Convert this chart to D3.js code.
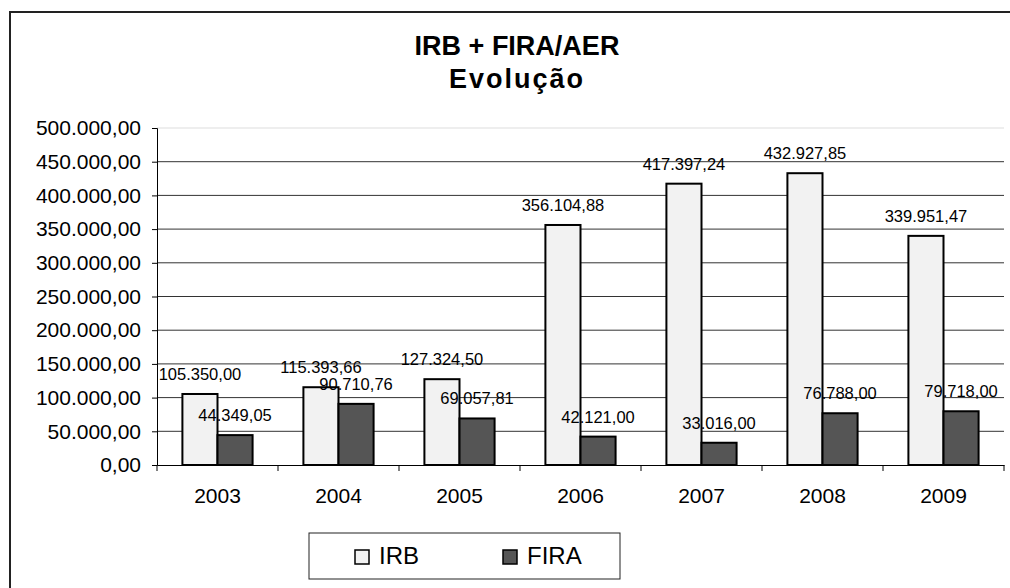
<!DOCTYPE html>
<html>
<head>
<meta charset="utf-8">
<script src="https://cdn.jsdelivr.net/npm/d3@7"></script>
<style>
  body { margin: 0; background: #fff; }
  svg { font-family: "Liberation Sans", Arial, sans-serif; }
</style>
</head>
<body>
<svg width="1010" height="588"></svg>
<script>
// data
var years = ['2003', '2004', '2005', '2006', '2007', '2008', '2009'];
var irb = [105350.00, 115393.66, 127324.50, 356104.88, 417397.24, 432927.85, 339951.47];
var fira = [44349.05, 90710.76, 69057.81, 42121.00, 33016.00, 76788.00, 79718.00];
var seriesNames = ['IRB', 'FIRA'];
var yTicks = [0, 50000, 100000, 150000, 200000, 250000, 300000, 350000, 400000, 450000, 500000];

var colors = ['#f2f2f2', '#555555'];

var br = d3.formatLocale({decimal: ',', thousands: '.', grouping: [3], currency: ['R$', '']});
var fmt = br.format(',.2f');

var svg = d3.select('svg');

// outer chart border (runs off the picture right and bottom)
svg.append('rect')
    .attr('x', 10).attr('y', 12)
    .attr('width', 1030).attr('height', 600)
    .attr('fill', '#fff')
    .attr('stroke', '#222')
    .attr('stroke-width', 2);

// title
svg.append('text')
    .attr('x', 517).attr('y', 55)
    .attr('text-anchor', 'middle')
    .attr('font-size', 27).attr('font-weight', 'bold')
    .text('IRB + FIRA/AER');
svg.append('text')
    .attr('x', 517).attr('y', 88)
    .attr('text-anchor', 'middle')
    .attr('font-size', 27).attr('font-weight', 'bold')
    .attr('letter-spacing', 2)
    .text('Evolução');

var pLeft = 157, pRight = 1004, pTop = 128, pBottom = 465;

var y = d3.scaleLinear().domain([0, 500000]).range([pBottom, pTop]);
var x0 = d3.scaleBand().domain(years).range([pLeft, pRight]).padding(0);
var bw = x0.bandwidth() * 0.29;
var x1 = d3.scaleBand().domain(seriesNames)
    .range([(x0.bandwidth() - 2 * bw) / 2, (x0.bandwidth() + 2 * bw) / 2]);

// gridlines
svg.append('g').selectAll('line')
    .data(yTicks.slice(1))
    .enter().append('line')
    .attr('x1', pLeft).attr('x2', pRight)
    .attr('y1', function(d) { return y(d); })
    .attr('y2', function(d) { return y(d); })
    .attr('stroke', function(d) { return d === 500000 ? '#dddddd' : '#333'; })
    .attr('stroke-width', 1);

// y axis
var yAxis = svg.append('g')
    .attr('transform', 'translate(' + pLeft + ',0)')
    .call(d3.axisLeft(y).tickValues(yTicks).tickFormat(fmt).tickSize(5).tickPadding(11));
yAxis.selectAll('text').attr('font-size', 21).attr('fill', '#000')
    .attr('font-family', '"Liberation Sans", Arial, sans-serif');
yAxis.select('.domain').attr('stroke', '#000');
yAxis.selectAll('line').attr('stroke', '#000');

// bars
var rows = years.map(function(yr, i) { return {year: yr, vals: [irb[i], fira[i]]}; });

var groups = svg.append('g').selectAll('g')
    .data(rows)
    .enter().append('g')
    .attr('transform', function(d) { return 'translate(' + x0(d.year) + ',0)'; });

groups.selectAll('rect')
    .data(function(d) { return d.vals.map(function(v, j) { return {name: seriesNames[j], v: v, j: j}; }); })
    .enter().append('rect')
    .attr('x', function(d) { return x1(d.name); })
    .attr('width', x1.bandwidth())
    .attr('y', function(d) { return y(d.v); })
    .attr('height', function(d) { return pBottom - y(d.v); })
    .attr('fill', function(d) { return colors[d.j]; })
    .attr('stroke', '#000')
    .attr('stroke-width', 2);

// x axis
var xAxis = svg.append('g')
    .attr('transform', 'translate(0,' + pBottom + ')')
    .call(d3.axisBottom(x0).tickSize(0).tickPadding(23));
xAxis.selectAll('text').attr('font-size', 21).attr('fill', '#000')
    .attr('font-family', '"Liberation Sans", Arial, sans-serif');
xAxis.select('.domain').attr('stroke', '#000');
xAxis.selectAll('.sep')
    .data(d3.range(years.length + 1))
    .enter().append('line')
    .attr('x1', function(i) { return pLeft + i * x0.bandwidth(); })
    .attr('x2', function(i) { return pLeft + i * x0.bandwidth(); })
    .attr('y1', 0).attr('y2', 6)
    .attr('stroke', '#000');

// data labels
groups.selectAll('text.lbl')
    .data(function(d) { return d.vals.map(function(v, j) { return {name: seriesNames[j], v: v}; }); })
    .enter().append('text')
    .attr('class', 'lbl')
    .attr('x', function(d) { return x1(d.name) + x1.bandwidth() / 2; })
    .attr('y', function(d) { return y(d.v) - 14; })
    .attr('text-anchor', 'middle')
    .attr('font-size', 16.5)
    .text(function(d) { return fmt(d.v); });

// legend
var lg = svg.append('g');
lg.append('rect')
    .attr('x', 309).attr('y', 533)
    .attr('width', 311).attr('height', 46)
    .attr('fill', '#fff').attr('stroke', '#222').attr('stroke-width', 1);
var lx = [355, 503];
seriesNames.forEach(function(n, i) {
    lg.append('rect')
        .attr('x', lx[i]).attr('y', 550)
        .attr('width', 14).attr('height', 14)
        .attr('fill', colors[i]).attr('stroke', '#000').attr('stroke-width', 1.5);
    lg.append('text')
        .attr('x', lx[i] + 24).attr('y', 564)
        .attr('font-size', 24)
        .text(n);
});
</script>
</body>
</html>
